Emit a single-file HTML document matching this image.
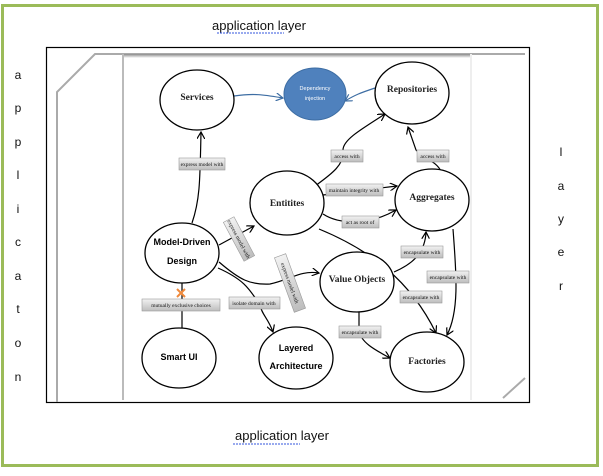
<!DOCTYPE html>
<html><head><meta charset="utf-8"><style>
body{margin:0;width:603px;height:471px;background:#fff;overflow:hidden;font-family:"Liberation Sans",sans-serif}
</style></head><body>
<svg width="603" height="471" viewBox="0 0 603 471" xmlns="http://www.w3.org/2000/svg">
<defs>
<marker id="a" markerWidth="8" markerHeight="8" refX="7" refY="4" orient="auto" markerUnits="userSpaceOnUse"><path d="M0,0 L7,4 L0,8" fill="none" stroke="#000" stroke-width="1.2"/></marker>
<marker id="b" markerWidth="8" markerHeight="8" refX="7" refY="4" orient="auto" markerUnits="userSpaceOnUse"><path d="M0,0 L7,4 L0,8" fill="none" stroke="#3d6da3" stroke-width="1.2"/></marker>
<linearGradient id="g" x1="0" y1="0" x2="0" y2="1"><stop offset="0" stop-color="#f2f2f2"/><stop offset="1" stop-color="#bdbdbd"/></linearGradient>
<linearGradient id="t" x1="0" y1="0" x2="0" y2="1"><stop offset="0" stop-color="#888"/><stop offset="1" stop-color="#fff"/></linearGradient>
</defs>
<rect x="2.5" y="5.5" width="595" height="460" fill="none" stroke="#9bbb59" stroke-width="3"/>
<text x="259" y="30" font-size="13" text-anchor="middle" fill="#111">application layer</text>
<path d="M217 33 H284" stroke="#3355dd" stroke-width="1" stroke-dasharray="2,1"/>
<text x="282" y="440" font-size="13" text-anchor="middle" fill="#111">application layer</text>
<path d="M233 444 H300" stroke="#3355dd" stroke-width="1" stroke-dasharray="2,1"/>
<g font-size="12" fill="#111" text-anchor="middle">
<text x="18" y="79">a</text><text x="18" y="112">p</text><text x="18" y="146">p</text><text x="18" y="179">l</text><text x="18" y="213">i</text><text x="18" y="246">c</text><text x="18" y="280">a</text><text x="18" y="313">t</text><text x="18" y="347">o</text><text x="18" y="381">n</text>
<text x="561" y="156">l</text><text x="561" y="190">a</text><text x="561" y="223">y</text><text x="561" y="256">e</text><text x="561" y="290">r</text>
</g>
<rect x="46.5" y="47.5" width="483" height="355" fill="#fff" stroke="#000" stroke-width="1.2"/>
<path d="M57 402 V92 L95 54 H525" fill="none" stroke="#aaa" stroke-width="2"/>
<path d="M503 398 L525 378" stroke="#aaa" stroke-width="2"/>
<rect x="122" y="54" width="350" height="4" fill="url(#t)"/>
<rect x="122" y="54" width="2" height="346" fill="#bbb"/>
<rect x="470" y="54" width="2" height="346" fill="#eee"/>
<g fill="none" stroke="#000" stroke-width="1.2">
<path d="M192 223 C200 200 200 180 201 132" marker-end="url(#a)"/>
<path d="M219 245 L254 226" marker-end="url(#a)"/>
<path d="M219 262 C240 280 250 285 270 284 C290 280 300 270 319 273" marker-end="url(#a)"/>
<path d="M218 268 C245 280 250 290 260 305 C262 315 268 318 273 332" marker-end="url(#a)"/>
<path d="M182 283 V330"/>
<path d="M315 186 C330 175 345 165 343 150 C343 140 360 130 385 114" marker-end="url(#a)"/>
<path d="M323 195 L397 186" marker-end="url(#a)"/>
<path d="M323 214 C340 225 370 225 396 210" marker-end="url(#a)"/>
<path d="M319 229 C370 250 410 280 436 333" marker-end="url(#a)"/>
<path d="M394 272 C410 265 425 255 426 232" marker-end="url(#a)"/>
<path d="M453 229 C456 270 460 310 447 335" marker-end="url(#a)"/>
<path d="M441 171 C435 160 425 160 416 150 L408 127" marker-end="url(#a)"/>
<path d="M359 312 V330 C360 342 375 350 390 358" marker-end="url(#a)"/>
</g>
<path d="M234 96 C255 93 265 95 283 98" fill="none" stroke="#3d6da3" stroke-width="1.2" marker-end="url(#b)"/>
<path d="M375 88 C360 93 355 95 345 101" fill="none" stroke="#3d6da3" stroke-width="1.2" marker-end="url(#b)"/>
<g fill="#fff" stroke="#000" stroke-width="1.3">
<ellipse cx="197" cy="100" rx="37" ry="30"/>
<ellipse cx="412" cy="93" rx="37" ry="31"/>
<ellipse cx="287" cy="203" rx="37" ry="32"/>
<ellipse cx="432" cy="200" rx="37" ry="31"/>
<ellipse cx="182" cy="253" rx="37" ry="30"/>
<ellipse cx="357" cy="282" rx="37" ry="30"/>
<ellipse cx="179" cy="358" rx="37" ry="30"/>
<ellipse cx="296" cy="358" rx="37" ry="31"/>
<ellipse cx="427" cy="362" rx="37" ry="30"/>
</g>
<ellipse cx="315" cy="94" rx="31" ry="26" fill="#4f81bd" stroke="#3d6da3"/>
<g font-family="Liberation Serif,serif" font-size="9.5" font-weight="bold" text-anchor="middle" fill="#222">
<text x="197" y="100">Services</text>
<text x="412" y="92">Repositories</text>
<text x="287" y="206">Entitites</text>
<text x="432" y="200">Aggregates</text>
<text x="357" y="282">Value Objects</text>
<text x="427" y="364">Factories</text>
</g>
<g font-family="Liberation Sans,sans-serif" font-size="9" font-weight="bold" text-anchor="middle" fill="#000">
<text x="182" y="245">Model-Driven</text><text x="182" y="264">Design</text>
<text x="179" y="360">Smart UI</text>
<text x="296" y="351">Layered</text><text x="296" y="369">Architecture</text>
</g>
<g font-size="5.5" font-family="Liberation Sans,sans-serif" fill="#fff" text-anchor="middle"><text x="315" y="90">Dependency</text><text x="315" y="100">injection</text></g>
<g stroke="#999" stroke-width="0.6" fill="url(#g)">
<rect x="179" y="158" width="46" height="12"/>
<rect x="331" y="150" width="32" height="12"/>
<rect x="417" y="150" width="32" height="12"/>
<rect x="326" y="184" width="57" height="12"/>
<rect x="342" y="216" width="37" height="12"/>
<rect x="401" y="246" width="42" height="12"/>
<rect x="427" y="271" width="42" height="12"/>
<rect x="400" y="291" width="42" height="12"/>
<rect x="339" y="326" width="42" height="12"/>
<rect x="142" y="299" width="78" height="12"/>
<rect x="229" y="297" width="51" height="12"/>
<rect x="-6" y="-22" width="12" height="44" transform="translate(239 239) rotate(-28)"/>
<rect x="-6" y="-29" width="12" height="58" transform="translate(290 283) rotate(-20)"/>
</g>
<g font-family="Liberation Serif,serif" font-size="5.5" text-anchor="middle" fill="#111">
<text x="202" y="166">express model with</text>
<text x="347" y="158">access with</text>
<text x="433" y="158">access with</text>
<text x="354" y="192">maintain integrity with</text>
<text x="360" y="224">act as root of</text>
<text x="422" y="254">encapsulate with</text>
<text x="448" y="279">encapsulate with</text>
<text x="421" y="299">encapsulate with</text>
<text x="360" y="334">encapsulate with</text>
<text x="181" y="307">mutually exclusive choices</text>
<text x="254" y="305">isolate domain with</text>
<text transform="translate(239 239) rotate(62)" y="2">express model with</text>
<text transform="translate(290 283) rotate(70)" y="2">express model with</text>
</g>
<path d="M177 289 L185 297 M185 289 L177 297" stroke="#f08a3c" stroke-width="2"/>
</svg>
</body></html>
